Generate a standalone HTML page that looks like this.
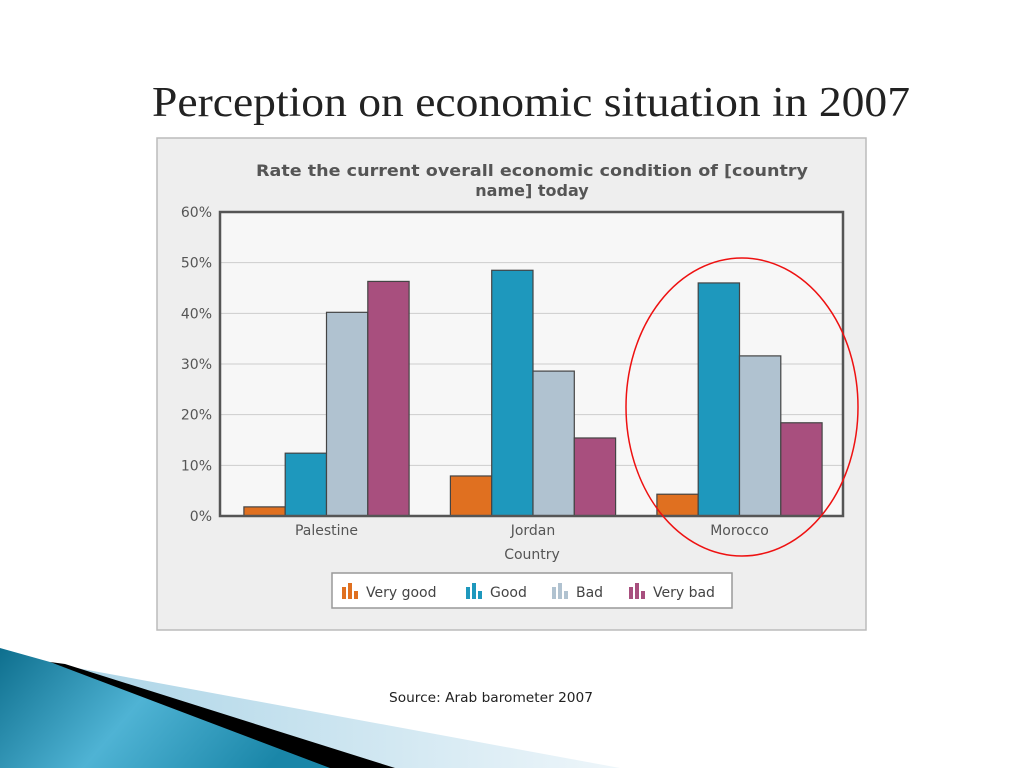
<!DOCTYPE html>
<html><head><meta charset="utf-8"><style>
body{margin:0;width:1024px;height:768px;background:#fff;overflow:hidden;position:relative;font-family:"DejaVu Sans","Liberation Sans",sans-serif}
</style></head><body>
<svg width="1024" height="768" style="position:absolute;left:0;top:0">
<defs>
<linearGradient id="bg1" x1="0" y1="0" x2="1" y2="0.3"><stop offset="0" stop-color="#0e6f8e"/><stop offset="0.5" stop-color="#4fb3d4"/><stop offset="1" stop-color="#1a86a8"/></linearGradient>
<linearGradient id="bg2" x1="0" y1="0" x2="1" y2="0"><stop offset="0" stop-color="#a9d3e6"/><stop offset="1" stop-color="#eef6fa"/></linearGradient>
</defs>
<g>
<polygon points="55,664 620,768 380,768" fill="url(#bg2)"/>
<polygon points="0,648 50,662 340,768 0,768" fill="url(#bg1)"/>
<polygon points="50,662 65,664 395,768 330,768" fill="#000"/>
</g>
<text x="152" y="116" font-family="Liberation Serif, serif" font-size="42" textLength="758" lengthAdjust="spacingAndGlyphs" fill="#222">Perception on economic situation in 2007</text>
<text x="389" y="702" font-size="13" textLength="204" lengthAdjust="spacingAndGlyphs" fill="#222">Source: Arab barometer 2007</text>
<rect x="157" y="138" width="709" height="492" fill="#eeeeee" stroke="#bbb" stroke-width="1.5"/>
<text x="532" y="176" font-size="16" font-weight="bold" fill="#555" text-anchor="middle" textLength="552" lengthAdjust="spacingAndGlyphs">Rate the current overall economic condition of [country</text>
<text x="532" y="196" font-size="16" font-weight="bold" fill="#555" text-anchor="middle">name] today</text>
<rect x="220" y="212" width="623" height="304" fill="#f7f7f7"/>
<g id="grid"></g>
<g id="bars"></g>
<rect x="220" y="212" width="623" height="304" fill="none" stroke="#555" stroke-width="2.5"/>
<g id="labels"></g>
<text x="532" y="559" font-size="14" fill="#555" text-anchor="middle">Country</text>
<g>
<rect x="332" y="573" width="400" height="35" fill="#fff" stroke="#999" stroke-width="1.5"/>
<g id="legend"></g>
</g>
<ellipse cx="742" cy="407" rx="116" ry="149" fill="none" stroke="#e11" stroke-width="1.5"/>
</svg>
<script>
const categories=["Palestine","Jordan","Morocco"];
const seriesNames=["Very good","Good","Bad","Very bad"];
const veryGood=[1.8,7.9,4.3];
const good=[12.4,48.5,46.0];
const bad=[40.2,28.6,31.6];
const veryBad=[46.3,15.4,18.4];
const yTicks=[0,10,20,30,40,50,60];
const colors=["#e07020","#1e98bd","#b0c2d0","#a84f7e"];
const series=[veryGood,good,bad,veryBad];
const NS="http://www.w3.org/2000/svg";
const X0=220,X1=843,Y0=516,Y1=212,YMAX=60;
const y=v=>Y0-(v/YMAX)*(Y0-Y1);
const gw=206.5;
const xc=i=>326.5+gw*i;
const bw=41.3;
function mk(t,a,p){const e=document.createElementNS(NS,t);for(const k in a)e.setAttribute(k,a[k]);p.appendChild(e);return e;}
const grid=document.getElementById('grid'),bars=document.getElementById('bars'),labels=document.getElementById('labels'),leg=document.getElementById('legend');
yTicks.forEach(t=>{
 const l=mk('line',{x1:X0,x2:X1,y1:y(t),y2:y(t),stroke:'#ccc','stroke-width':1},grid);
 
 
 const tx=mk('text',{x:212,y:y(t)+5,'font-size':14,fill:'#555','text-anchor':'end'},labels);
 tx.textContent=t+'%';
 
 
});
categories.forEach((c,i)=>{
 series.forEach((s,j)=>{
  const x=xc(i)-2*bw+j*bw;
  const r=mk('rect',{x:x,y:y(s[i]),width:bw,height:Y0-y(s[i]),fill:colors[j],stroke:'#444','stroke-width':1.2},bars);
  
  
 });
 const tx=mk('text',{x:xc(i),y:535,'font-size':14,fill:'#555','text-anchor':'middle'},labels);
 tx.textContent=c;
 
 
});
const lx=[342,466,552,629];
seriesNames.forEach((n,j)=>{
 const g=mk('g',{},leg);
 
 
 mk('rect',{x:lx[j],y:587,width:4,height:12,fill:colors[j]},g);
 mk('rect',{x:lx[j]+6,y:583,width:4,height:16,fill:colors[j]},g);
 mk('rect',{x:lx[j]+12,y:591,width:4,height:8,fill:colors[j]},g);
 const t=mk('text',{x:lx[j]+24,y:597,'font-size':14,fill:'#444'},g);
 t.textContent=n;
});
</script>
</body></html>
